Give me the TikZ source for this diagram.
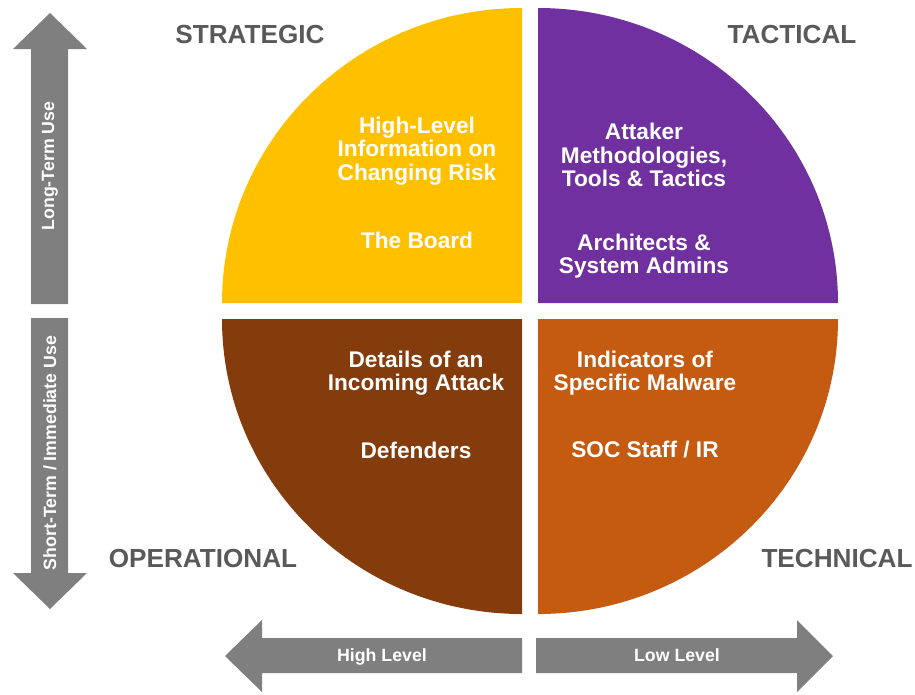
\documentclass[tikz,border=0pt]{standalone}
\usepackage{fontspec}
\setmainfont{Liberation Sans}
\usepackage{tikz}
\usetikzlibrary{positioning}
\definecolor{qyellow}{HTML}{FFC000}
\definecolor{qpurple}{HTML}{7030A0}
\definecolor{qbrown}{HTML}{843C0C}
\definecolor{qorange}{HTML}{C55A11}
\definecolor{arrgray}{HTML}{7F7F7F}
\definecolor{titlegray}{HTML}{595959}

\begin{document}
\begin{tikzpicture}[x=0.75pt,y=0.75pt,
    quadtext/.style={text=white,font=\fontsize{17}{17.6}\selectfont\bfseries,align=center,inner sep=0pt},
    corner/.style={text=titlegray,font=\fontsize{19.6}{20}\selectfont\bfseries,inner sep=0pt},
    tag/.style={text=white,font=\fontsize{13.3}{14}\selectfont\bfseries,inner sep=0pt}]
  \useasboundingbox (0,0) rectangle (915,-694);
  \def\rx{300}
  \def\ry{295}
  % four quarters of the disc
  \fill[qyellow] (522,-303) -- (222,-303) arc[start angle=180,end angle=90,x radius=\rx,y radius=\ry] -- cycle;
  \fill[qpurple] (538,-303) -- (538,-8) arc[start angle=90,end angle=0,x radius=\rx,y radius=\ry] -- cycle;
  \fill[qbrown] (522,-319) -- (222,-319) arc[start angle=180,end angle=270,x radius=\rx,y radius=\ry] -- cycle;
  \fill[qorange] (538,-319) -- (838,-319) arc[start angle=0,end angle=-90,x radius=\rx,y radius=\ry] -- cycle;
  % block arrows
  \fill[arrgray] (31,-304) -- (31,-49) -- (13,-49) -- (50,-13) -- (87,-49) -- (68,-49) -- (68,-304) -- cycle;
  \fill[arrgray] (31,-318) -- (31,-573) -- (13,-573) -- (50,-609) -- (87,-573) -- (68,-573) -- (68,-318) -- cycle;
  \fill[arrgray] (522,-638) -- (262,-638) -- (262,-620) -- (225,-656) -- (262,-692) -- (262,-673) -- (522,-673) -- cycle;
  \fill[arrgray] (536,-638) -- (797,-638) -- (797,-620) -- (833,-656) -- (797,-692) -- (797,-673) -- (536,-673) -- cycle;
  \node[tag,rotate=90] (longterm) at (50,-166) {Long-Term Use};
  \node[tag,rotate=90] (shortterm) at (50,-453) {Short-Term / Immediate Use};
  \node[tag] (highlvl) at (382,-657) {High Level};
  \node[tag] (lowlvl) at (677,-655) {Low Level};
  % corner titles
  \node[corner] (strategic) at (250,-34) {STRATEGIC};
  \node[corner] (tactical) at (792,-34) {TACTICAL};
  \node[corner] (operational) at (203,-558) {OPERATIONAL};
  \node[corner] (technical) at (837,-558) {TECHNICAL};
  % quarter texts
  \node[quadtext] (stratinfo) at (417,-151) {High-Level\\Information on\\Changing Risk};
  \node[quadtext] (stratwho) at (417,-240) {The Board};
  \node[quadtext] (tactinfo) at (644,-155) {Attaker\\Methodologies,\\Tools \& Tactics};
  \node[quadtext] (tactwho) at (644,-256) {Architects \&\\System Admins};
  \node[quadtext] (operinfo) at (416,-373) {Details of an\\Incoming Attack};
  \node[quadtext] (operwho) at (416,-450) {Defenders};
  \node[quadtext] (techinfo) at (645,-373) {Indicators of\\Specific Malware};
  \node[quadtext] (techwho) at (645,-450) {SOC Staff / IR};
\end{tikzpicture}
\end{document}
